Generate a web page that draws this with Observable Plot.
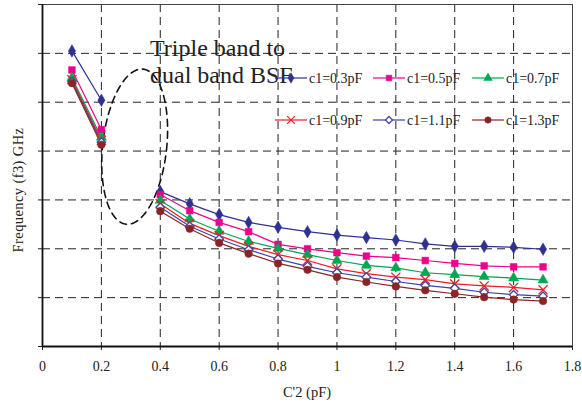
<!DOCTYPE html>
<html><head><meta charset="utf-8">
<script src="https://cdn.jsdelivr.net/npm/d3@7"></script>
<script src="https://cdn.jsdelivr.net/npm/@observablehq/plot@0.6"></script>
<style>
body{margin:0;background:#fff;}
#wrap{position:relative;width:582px;height:406px;font-family:"Liberation Serif","Times New Roman",serif;}
#wrap svg.over{position:absolute;left:0;top:0;pointer-events:none;}
</style></head><body><div id="wrap"></div>
<script>
// C'2 values (pF)
const c2 = [0.1, 0.2, 0.4, 0.5, 0.6, 0.7, 0.8, 0.9, 1.0, 1.1, 1.2, 1.3, 1.4, 1.5, 1.6, 1.7];
const seriesNames = ["c1=0.3pF", "c1=0.5pF", "c1=0.7pF", "c1=0.9pF", "c1=1.1pF", "c1=1.3pF"];
// Frequency (f3), in grid units (no tick labels in original)
const f_c1_03 = [6.05, 5.04, 3.17, 2.92, 2.70, 2.54, 2.44, 2.35, 2.28, 2.23, 2.18, 2.10, 2.05, 2.05, 2.03, 1.99];
const f_c1_05 = [5.66, 4.44, 3.11, 2.78, 2.54, 2.35, 2.09, 2.00, 1.92, 1.85, 1.82, 1.76, 1.70, 1.65, 1.63, 1.63];
const f_c1_07 = [5.50, 4.28, 2.99, 2.61, 2.36, 2.15, 2.01, 1.88, 1.76, 1.66, 1.61, 1.51, 1.47, 1.43, 1.40, 1.36];
const f_c1_09 = [5.46, 4.22, 2.92, 2.52, 2.27, 2.05, 1.88, 1.76, 1.59, 1.49, 1.42, 1.37, 1.28, 1.24, 1.21, 1.16];
const f_c1_11 = [5.42, 4.18, 2.85, 2.46, 2.20, 1.98, 1.79, 1.64, 1.51, 1.42, 1.33, 1.25, 1.19, 1.11, 1.06, 1.03];
const f_c1_13 = [5.39, 4.13, 2.77, 2.41, 2.12, 1.90, 1.70, 1.57, 1.42, 1.32, 1.23, 1.15, 1.08, 1.01, 0.96, 0.93];
const seriesValues = [f_c1_03, f_c1_05, f_c1_07, f_c1_09, f_c1_11, f_c1_13];
const xTicks = [0, 0.2, 0.4, 0.6, 0.8, 1.0, 1.2, 1.4, 1.6, 1.8];
const yTicks = [0, 1, 2, 3, 4, 5, 6, 7];
const annotationLines = ["Triple band to", "dual band BSF"];
const xLabel = "C'2 (pF)";
const yLabel = "Frequency (f3) GHz";

const colors = ["#2e3192", "#ec008c", "#00a651", "#ed1c24", "#3b44a8", "#8b2424"];
const symbols = ["diamond", "square", "triangle", "times", "diamond2", "circle"];
const d3symbols = [d3.symbolDiamond, d3.symbolSquare, d3.symbolTriangle, d3.symbolTimes, d3.symbolDiamond2, d3.symbolCircle];
const filled = [true, true, true, false, false, true];

const rows = [];
seriesNames.forEach((s, i) => {
  c2.forEach((x, j) => rows.push({series: s, idx: i, x, f: seriesValues[i][j], seg: x < 0.3 ? "a" : "b"}));
});

// dashed ellipse annotation (center / semi-axes in data units & pixels)
const ell = {cx: 0.313, cy: 4.09, a: 32, b: 78, theta: 0.11};
const kx = (582 - 42 - 10) / 1.8, ky = (406 - 4 - 60) / 7;
const ellPts = d3.range(0, 101).map(k => {
  const t = k / 100 * 2 * Math.PI;
  const dx = ell.a * Math.cos(t) * Math.cos(ell.theta) + ell.b * Math.sin(t) * Math.sin(ell.theta);
  const dy = -ell.a * Math.cos(t) * Math.sin(ell.theta) + ell.b * Math.sin(t) * Math.cos(ell.theta);
  return {x: ell.cx + dx / kx, y: ell.cy + dy / ky};
});

const fmt = d => String(+d.toFixed(1));

const marks = [
  Plot.gridX(xTicks.slice(1, -1), {stroke: "#222", strokeOpacity: 1, strokeDasharray: "8,5", strokeWidth: 1}),
  Plot.gridY(yTicks.slice(1, -1), {stroke: "#222", strokeOpacity: 1, strokeDasharray: "8,5", strokeWidth: 1}),
  Plot.frame({stroke: "#444", strokeWidth: 1}),
  Plot.axisX({ticks: xTicks, tickSize: 4, tickPadding: 11, tickFormat: fmt, label: null, fontSize: 14}),
  Plot.axisY({ticks: yTicks, tickSize: 4, tickFormat: () => "", label: null}),
  Plot.ruleX([0], {stroke: "#111", strokeWidth: 1.8}),
  Plot.ruleY([0], {stroke: "#111", strokeWidth: 1.8}),
  Plot.line(ellPts, {x: "x", y: "y", stroke: "#111", strokeWidth: 1.6, strokeDasharray: "7,5"})
];
seriesNames.forEach((s, i) => {
  const data = rows.filter(r => r.idx === i);
  marks.push(Plot.line(data, {x: "x", y: "f", z: "seg", stroke: colors[i], strokeWidth: 1.2}));
});
seriesNames.forEach((s, i) => {
  const data = rows.filter(r => r.idx === i);
  marks.push(Plot.dot(data, {
    x: "x", y: "f", symbol: symbols[i], r: i === 3 ? 4.2 : 3.8,
    fill: filled[i] ? colors[i] : (i === 4 ? "white" : "none"),
    stroke: colors[i], strokeWidth: filled[i] ? 0.5 : 1.3
  }));
});

const chart = Plot.plot({
  width: 582, height: 406,
  marginLeft: 42, marginRight: 10, marginTop: 4, marginBottom: 60,
  style: {fontFamily: "'Liberation Serif', 'Times New Roman', serif", fontSize: "14px", color: "#222", background: "white"},
  x: {domain: [0, 1.8]},
  y: {domain: [0, 7]},
  marks
});
const wrap = document.getElementById("wrap");
wrap.appendChild(chart);

// overlay: annotation, legend, axis titles
const over = d3.select(wrap).append("svg").attr("class", "over").attr("width", 582).attr("height", 406)
  .style("font-family", "'Liberation Serif', 'Times New Roman', serif");
annotationLines.forEach((t, i) => {
  over.append("text").attr("x", 150).attr("y", 56 + i * 27).attr("font-size", 24).attr("fill", "#222").text(t);
});
const legX = [275, 373, 472], legY = [78, 120];
seriesNames.forEach((s, i) => {
  const lx = legX[i % 3], ly = legY[Math.floor(i / 3)];
  const g = over.append("g");
  g.append("line").attr("x1", lx).attr("x2", lx + 32).attr("y1", ly).attr("y2", ly).attr("stroke", colors[i]).attr("stroke-width", 1.2);
  g.append("path").attr("d", d3.symbol(d3symbols[i], i === 3 ? 40 : 32)())
    .attr("transform", `translate(${lx + 16},${ly})`)
    .attr("fill", filled[i] ? colors[i] : (i === 4 ? "white" : "none"))
    .attr("stroke", colors[i]).attr("stroke-width", filled[i] ? 0.5 : 1.2);
  g.append("text").attr("x", lx + 34).attr("y", ly + 5).attr("font-size", 14).attr("fill", "#222").text(s);
});
over.append("text").attr("x", 307).attr("y", 397).attr("text-anchor", "middle").attr("font-size", 14.5).attr("fill", "#222").text(xLabel);
over.append("text").attr("transform", "translate(23,190) rotate(-90)").attr("text-anchor", "middle").attr("font-size", 14.5).attr("letter-spacing", 0.4).attr("fill", "#222").text(yLabel);
</script></body></html>
